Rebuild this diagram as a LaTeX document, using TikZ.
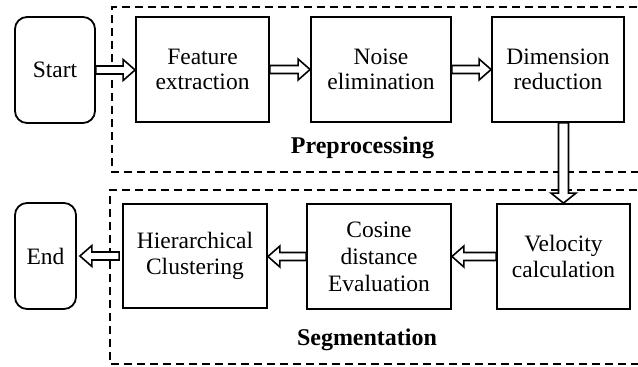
\documentclass[tikz,border=0pt]{standalone}
\usepackage{fontspec}
\setmainfont{Liberation Serif}
\usetikzlibrary{calc}
\tikzset{
  blk/.style={draw, line width=1.8pt, inner sep=0pt, align=center,
    font=\fontsize{23.5}{25.5}\selectfont},
  rblk/.style={blk, rounded corners=12pt},
  grp/.style={draw, line width=1.8pt, dash pattern=on 8pt off 5pt},
  arr/.style={draw, line width=1.6pt, fill=white, line join=miter},
  lbl/.style={font=\fontsize{24}{26}\selectfont\bfseries, anchor=base, inner sep=0pt}
}
\newcommand\harrow[2]{% horizontal hollow arrow from #1 to #2
  \draw[arr] let \p1=#1, \p2=#2, \n1={sign(\x2-\x1)} in
    (\x1,\y1-4pt) -- (\x2-\n1*12pt,\y1-4pt) -- (\x2-\n1*12pt,\y1-10.5pt) -- (\x2,\y1)
    -- (\x2-\n1*12pt,\y1+10.5pt) -- (\x2-\n1*12pt,\y1+4pt) -- (\x1,\y1+4pt) -- cycle;}
\begin{document}
\begin{tikzpicture}[x=1pt,y=-1pt]
\useasboundingbox (0,0) rectangle (638,367);
\clip (0,0) rectangle (638,367);
% group frames
\draw[grp] (650,7) -- (112,7) -- (112,172) -- (650,172);
\draw[grp] (650,190) -- (110,190) -- (110,364) -- (650,364);
% nodes
\node[rblk, minimum width=80pt, minimum height=106pt] (start) at (55,70) {Start};
\node[blk, minimum width=133pt, minimum height=105pt] (feat) at (202.5,69.5) {Feature\\extraction};
\node[blk, minimum width=140pt, minimum height=105pt] (noise) at (381,69.5) {Noise\\elimination};
\node[blk, minimum width=132pt, minimum height=105pt] (dim) at (558,69.5) {Dimension\\reduction};
\node[blk, minimum width=133pt, minimum height=105pt] (vel) at (563.5,256.5) {Velocity\\calculation};
\node[blk, minimum width=144pt, minimum height=105pt, font=\fontsize{23.5}{27}\selectfont] (cos) at (379,256.5) {Cosine\\distance\\Evaluation};
\node[blk, minimum width=144pt, minimum height=104pt] (hier) at (195,256) {Hierarchical\\Clustering};
\node[rblk, minimum width=61pt, minimum height=106pt] (end) at (45.5,256) {End};
% labels
\node[lbl] (pre) at (362.5,153) {Preprocessing};
\node[lbl] (seg) at (367,345) {Segmentation};
% arrows
\harrow{(start.east)}{(feat.west)}
\harrow{(feat.east)}{(noise.west)}
\harrow{(noise.east)}{(dim.west)}
\harrow{(vel.west)}{(cos.east)}
\harrow{(cos.west)}{(hier.east)}
\harrow{($(hier.west)+(-3,0)$)}{($(end.east)+(3,0)$)}
\draw[arr] let \p1=(dim.south), \p2=(vel.north) in
  (\x2-5pt,\y1) -- (\x2-5pt,\y2+10pt) -- (\x2-12.5pt,\y2+10pt) -- (\x2,\y2)
  -- (\x2+12.5pt,\y2+10pt) -- (\x2+5pt,\y2+10pt) -- (\x2+5pt,\y1) -- cycle;
\end{tikzpicture}
\end{document}
